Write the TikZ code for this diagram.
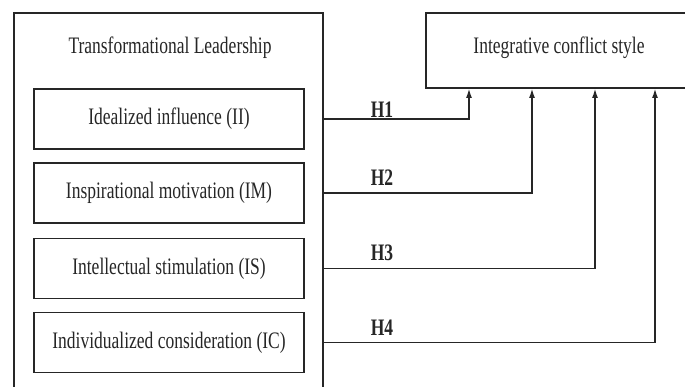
\documentclass[tikz,border=0pt]{standalone}
\usepackage{fontspec}
\setmainfont{Liberation Serif}
\usetikzlibrary{arrows.meta}
\definecolor{ink}{HTML}{262626}
% text set a little taller than wide
\newcommand{\tall}[1]{\scalebox{1}[1.35]{#1}}
\begin{document}
\begin{tikzpicture}[x=1pt,y=-1pt,
  frame/.style={draw=ink,line width=1.9pt,rectangle,inner sep=0pt},
  dimbox/.style={frame,minimum width=270pt,minimum height=60pt,
    font=\fontsize{17.5}{20}\selectfont,text=ink},
  caption/.style={font=\fontsize{17.5}{20}\selectfont,text=ink},
  hlab/.style={font=\fontsize{17.5}{20}\selectfont\bfseries,text=ink},
  link/.style={draw=ink,line width=1.9pt,-{Latex[length=10pt,width=6pt]}}
]
\useasboundingbox (0,0) rectangle (685,387);

% outer frame of the leadership dimensions (runs past the lower edge)
\node[frame,minimum width=309pt,minimum height=390pt] (TL) at (168.5,208) {};
\node[caption] (title) at (170,48) {\tall{Transformational Leadership}};

% the four dimensions
\node[dimbox] (II) at (169,119)   {\tall{Idealized influence (II)}};
\node[dimbox] (IM) at (169,193)   {\tall{Inspirational motivation (IM)}};
\node[dimbox] (IS) at (169,268.5) {\tall{Intellectual stimulation (IS)}};
\node[dimbox] (IC) at (169,342.5) {\tall{Individualized consideration (IC)}};

% outcome (runs past the right edge)
\node[frame,minimum width=266pt,minimum height=75pt,caption] (ICS) at (559,50.5) {};
\node[caption] (outcome) at (559,48) {\tall{Integrative conflict style}};

% arrow targets on the lower side of the outcome box
\coordinate (t1) at (469,88);
\coordinate (t2) at (532,88);
\coordinate (t3) at (595,88);
\coordinate (t4) at (655,88);

\draw[link] (TL.east |- II) -| (t1);
\draw[link] (TL.east |- IM) -| (t2);
\draw[link] (TL.east |- IS) -| (t3);
\draw[link] (TL.east |- IC) -| (t4);

\node[hlab] (h1) at (382,110) {\tall{H1}};
\node[hlab] (h2) at (382,178) {\tall{H2}};
\node[hlab] (h3) at (382,253) {\tall{H3}};
\node[hlab] (h4) at (382,328) {\tall{H4}};
\end{tikzpicture}
\end{document}
